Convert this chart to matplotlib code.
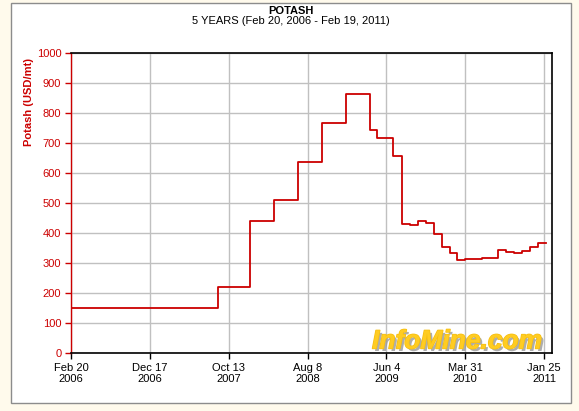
import matplotlib
matplotlib.use("Agg")
import matplotlib.pyplot as plt
import matplotlib.dates as mdates
import matplotlib.patheffects as pe
from matplotlib.patches import Rectangle
import numpy as np

# ---- data ----
dates = ['2006-02-20', '2007-09-01', '2008-01-01', '2008-04-01', '2008-07-01',
         '2008-10-01', '2009-01-01', '2009-04-01', '2009-05-01', '2009-07-01',
         '2009-08-01', '2009-09-01', '2009-10-01', '2009-11-01', '2009-12-01',
         '2010-01-01', '2010-02-01', '2010-03-01', '2010-04-01', '2010-05-01',
         '2010-06-01', '2010-08-01', '2010-09-01', '2010-10-01', '2010-11-01',
         '2010-12-01', '2011-01-01', '2011-02-01']
prices = [152, 222, 441, 511, 636, 767, 866, 744, 718, 656,
          432, 429, 440, 436, 399, 354, 336, 311, 314, 316,
          319, 346, 339, 336, 341, 353, 369, 369]
tick_dates = ['2006-02-20', '2006-12-17', '2007-10-13', '2008-08-08',
              '2009-06-04', '2010-03-31', '2011-01-25']
tick_labels = ['Feb 20\n2006', 'Dec 17\n2006', 'Oct 13\n2007', 'Aug 8\n2008',
               'Jun 4\n2009', 'Mar 31\n2010', 'Jan 25\n2011']
y_ticks = list(range(0, 1001, 100))
title = 'POTASH'
subtitle = '5 YEARS (Feb 20, 2006 - Feb 19, 2011)'
ylabel = 'Potash (USD/mt)'
x_start, x_end = '2006-02-20', '2011-02-23'

plt.rcParams['font.family'] = ['Liberation Sans', 'DejaVu Sans']

W, H = 579, 411
fig = plt.figure(figsize=(W / 100, H / 100), dpi=100)
fig.patch.set_facecolor('#FFFAEC')

# white frame
frame = Rectangle((10.7 / W, 1 - 403.3 / H), (571 - 10.7) / W, (403.3 - 2.7) / H,
                  transform=fig.transFigure, facecolor='white', edgecolor='#8C8C8C',
                  linewidth=1.0, zorder=0)
fig.patches.append(frame)

ax = fig.add_axes([71 / W, 1 - 353.3 / H, (551.7 - 71) / W, (353.3 - 53.3) / H])
ax.set_zorder(1)
ax.set_facecolor('white')

xd = mdates.date2num(np.array(dates, dtype='datetime64[D]'))
ax.plot(xd, prices, drawstyle='steps-post', color='#CC0000', lw=1.3, zorder=3)

ax.set_xlim(mdates.date2num(np.datetime64(x_start)), mdates.date2num(np.datetime64(x_end)))
ax.set_ylim(0, 1000)

ax.set_xticks(mdates.date2num(np.array(tick_dates, dtype='datetime64[D]')))
ax.set_xticklabels(tick_labels, fontsize=8, color='black', linespacing=1.15)
ax.set_yticks(y_ticks)
ax.set_yticklabels([str(v) for v in y_ticks], fontsize=8, color='#CC0000')

ax.tick_params(axis='x', direction='out', length=4, width=1, color='black', pad=3)
ax.tick_params(axis='y', direction='out', length=4, width=1, color='#CC0000', pad=3)

ax.grid(True, color='#C0C0C0', lw=1, zorder=1)
ax.set_axisbelow(True)

for s in ['top', 'right', 'bottom']:
    ax.spines[s].set_color('black')
    ax.spines[s].set_linewidth(1.2)
ax.spines['left'].set_color('#CC0000')
ax.spines['left'].set_linewidth(1.0)

fig.text(291 / W, 1 - 11.2 / H, title, ha='center', va='center', fontsize=8,
         fontweight='bold', color='black')
fig.text(291 / W, 1 - 21.5 / H, subtitle, ha='center', va='center', fontsize=8,
         color='black')
fig.text(29.3 / W, 1 - 101.7 / H, ylabel, ha='center', va='center', rotation=90,
         fontsize=8, fontweight='bold', color='#CC0000')

fig.text(372 / W, 1 - 348.5 / H, 'InfoMine.com', ha='left', va='baseline',
         fontsize=19, fontweight='bold', fontstyle='italic', color='#FFCC22',
         zorder=2,
         path_effects=[pe.SimplePatchShadow(offset=(1.8, -1.8),
                                            shadow_rgbFace='#999999', alpha=0.8),
                       pe.withStroke(linewidth=1.0, foreground='#F5BE10')])

fig.savefig('out.png', dpi=100, facecolor=fig.get_facecolor())
